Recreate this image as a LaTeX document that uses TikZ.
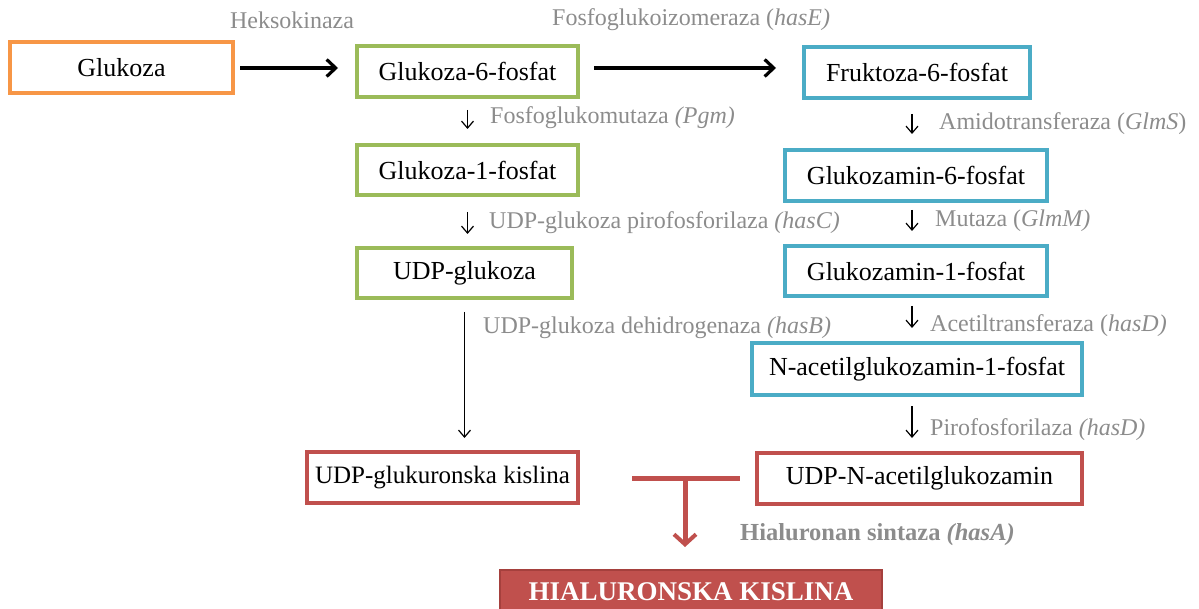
\documentclass[tikz,border=0pt]{standalone}
\usepackage{fontspec}
\setmainfont{Liberation Serif}
\usetikzlibrary{arrows.meta}
\definecolor{cOrange}{HTML}{F79646}
\definecolor{cGreen}{HTML}{9BBB59}
\definecolor{cTeal}{HTML}{4BACC6}
\definecolor{cRed}{HTML}{C0504D}
\definecolor{cRedDark}{HTML}{A5403D}
\definecolor{cGray}{HTML}{8C8C8C}
\tikzset{
  box/.style={draw, line width=4pt, fill=white, inner sep=0pt, font=\fontsize{26}{30}\selectfont},
  obox/.style={box, draw=cOrange},
  gbox/.style={box, draw=cGreen},
  tbox/.style={box, draw=cTeal},
  rbox/.style={box, draw=cRed},
  lbl/.style={text=cGray, font=\fontsize{24}{28}\selectfont, inner sep=0pt},
  bigarrow/.style={line width=3.2pt, -{Straight Barb[length=9pt,width=17pt,line width=3.2pt]}},
  smallarrow/.style={line width=1.2pt, -{Straight Barb[length=7pt,width=12pt,line width=1.2pt]}},
  redline/.style={line width=5pt, draw=cRed},
  redarrow/.style={line width=5pt, draw=cRed, -{Straight Barb[length=10pt,width=22pt,line width=4pt]}},
}
\begin{document}
\begin{tikzpicture}[x=1pt,y=-1pt]
\useasboundingbox (0,0) rectangle (1199,609);
\clip (0,0) rectangle (1199,609);
% nodes
\node[obox, minimum width=223pt, minimum height=51pt] (glc) at (121.5,67.5) {Glukoza};
\node[gbox, minimum width=221pt, minimum height=51pt] (g6p) at (467.5,71.5) {Glukoza-6-fosfat};
\node[tbox, minimum width=226pt, minimum height=51pt] (f6p) at (917,72.5) {Fruktoza-6-fosfat};
\node[gbox, minimum width=221pt, minimum height=50pt] (g1p) at (467.5,170) {Glukoza-1-fosfat};
\node[tbox, minimum width=262pt, minimum height=51pt] (gn6p) at (916,175.5) {Glukozamin-6-fosfat};
\node[gbox, minimum width=215pt, minimum height=50pt] (udpg) at (464.5,273) {UDP-glukoza};
\node[tbox, minimum width=262pt, minimum height=50pt] (gn1p) at (916,271) {Glukozamin-1-fosfat};
\node[tbox, minimum width=330pt, minimum height=52pt] (nac) at (917,369) {N-acetilglukozamin-1-fosfat};
\node[rbox, minimum width=271pt, minimum height=51pt, font=\fontsize{25}{29}\selectfont] (udpgu) at (442.5,477.5) {UDP-glukuronska kislina};
\node[rbox, minimum width=325pt, minimum height=51pt] (udpn) at (919.5,478.5) {UDP-N-acetilglukozamin};
\node[draw=cRedDark, line width=2pt, fill=cRed, text=white, minimum width=382pt, minimum height=52pt, inner sep=0pt,
      font=\fontsize{27}{30}\selectfont\bfseries, text depth=0pt] (ha) at (691,596) {\raisebox{8pt}{HIALURONSKA KISLINA}};

% enzyme labels
\node[lbl] (l1) at (292,20) {Heksokinaza};
\node[lbl, anchor=west] (l2) at (552,20) {Fosfoglukoizomeraza (\textit{hasE)}};
\node[lbl, anchor=west] (l3) at (490,118) {Fosfoglukomutaza \textit{(Pgm)}};
\node[lbl, anchor=west] (l4) at (489,223) {UDP-glukoza pirofosforilaza \textit{(hasC)}};
\node[lbl, anchor=west] (l5) at (483,328) {UDP-glukoza dehidrogenaza \textit{(hasB)}};
\node[lbl, anchor=west] (l6) at (939,124) {Amidotransferaza (\textit{GlmS})};
\node[lbl, anchor=west] (l7) at (935,221) {Mutaza (\textit{GlmM)}};
\node[lbl, anchor=west] (l8) at (930,326) {Acetiltransferaza (\textit{hasD)}};
\node[lbl, anchor=west] (l9) at (930,430) {Pirofosforilaza \textit{(hasD)}};
\node[lbl, anchor=west, font=\fontsize{24.5}{28}\selectfont\bfseries] (l10) at (740,535) {Hialuronan sintaza \textit{(hasA)}};

% big arrows
\draw[bigarrow, shorten <=5pt, shorten >=17pt] (glc.east |- 0,68) -- (g6p.west |- 0,68);
\draw[bigarrow, shorten <=14pt, shorten >=26pt] (g6p.east |- 0,68) -- (f6p.west |- 0,68);

% small arrows
\draw[smallarrow, shorten <=11pt, shorten >=14pt] (g6p.south) -- (g1p.north);
\draw[smallarrow, shorten <=15pt, shorten >=12pt] (g1p.south) -- (g1p.south |- udpg.north);
\draw[smallarrow, shorten <=12pt, shorten >=12pt] (udpg.south) -- (udpg.south |- udpgu.north);
\draw[smallarrow, shorten <=14pt, shorten >=14pt] (f6p.south -| 912,0) -- (gn6p.north -| 912,0);
\draw[smallarrow, shorten <=7pt, shorten >=13pt] (gn6p.south -| 912,0) -- (gn1p.north -| 912,0);
\draw[smallarrow, shorten <=8pt, shorten >=13pt] (gn1p.south -| 912,0) -- (nac.north -| 912,0);
\draw[smallarrow, shorten <=9pt, shorten >=13pt] (nac.south -| 912,0) -- (udpn.north -| 912,0);

% red merge
\coordinate (mj) at (685,478);
\draw[redline] (udpgu.east |- mj) ++(52,0) -- (mj) -- ++(55,0) coordinate (mr);
\draw[redarrow, shorten >=22pt] (mj) -- (mj |- ha.north);
\end{tikzpicture}
\end{document}
